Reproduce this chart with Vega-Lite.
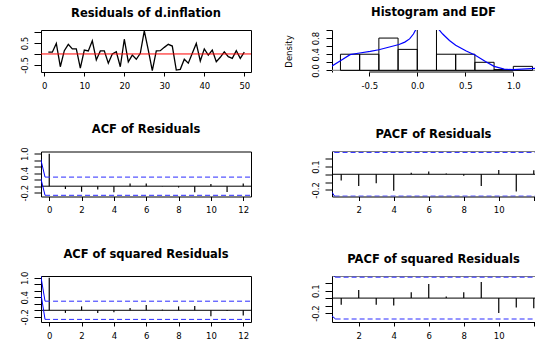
{
  "$schema": "https://vega.github.io/schema/vega-lite/v6.json",
  "padding": {"left": 19, "top": 7, "right": 0, "bottom": 0},
  "bounds": "flush",
  "columns": 2,
  "spacing": {"row": 79.5, "column": 81},
  "config": {
    "font": "DejaVu Sans",
    "view": {"stroke": "black", "strokeWidth": 1},
    "axis": {"labelFont": "DejaVu Sans", "labelFontSize": 8.5, "labelColor": "black", "tickColor": "black", "domainColor": "black", "grid": false, "titleFont": "DejaVu Sans", "titleFontWeight": "normal", "titleFontSize": 8.5, "titleColor": "black", "labelOverlap": false, "labelFlush": false},
    "axisX": {"tickSize": 4, "labelPadding": 5, "labelAngle": 0},
    "axisY": {"tickSize": 7, "labelPadding": 5, "labelAngle": 270, "labelAlign": "center", "labelBaseline": "bottom"},
    "title": {"font": "DejaVu Sans", "fontSize": 11.5, "fontWeight": "bold", "color": "black", "anchor": "middle", "frame": "group", "offset": 11}
  },
  "datasets": {
    "resid": [
      {"x": 1, "y": 0.08}, {"x": 2, "y": 0.08}, {"x": 3, "y": 0.48}, {"x": 4, "y": -0.58}, {"x": 5, "y": 0.15},
      {"x": 6, "y": 0.44}, {"x": 7, "y": 0.23}, {"x": 8, "y": 0.23}, {"x": 9, "y": -0.64}, {"x": 10, "y": 0.18},
      {"x": 11, "y": 0.14}, {"x": 12, "y": 0.6}, {"x": 13, "y": -0.27}, {"x": 14, "y": 0.14}, {"x": 15, "y": 0.14},
      {"x": 16, "y": -0.42}, {"x": 17, "y": 0.0}, {"x": 18, "y": 0.1}, {"x": 19, "y": -0.58}, {"x": 20, "y": 0.67},
      {"x": 21, "y": -0.36}, {"x": 22, "y": -0.05}, {"x": 23, "y": -0.24}, {"x": 24, "y": 0.03}, {"x": 25, "y": 1.05},
      {"x": 26, "y": 0.18}, {"x": 27, "y": -0.76}, {"x": 28, "y": 0.14}, {"x": 29, "y": 0.15}, {"x": 30, "y": 0.3},
      {"x": 31, "y": 0.44}, {"x": 32, "y": 0.36}, {"x": 33, "y": -0.73}, {"x": 34, "y": -0.7}, {"x": 35, "y": -0.24},
      {"x": 36, "y": -0.42}, {"x": 37, "y": 0.03}, {"x": 38, "y": 0.48}, {"x": 39, "y": -0.32}, {"x": 40, "y": 0.23},
      {"x": 41, "y": -0.05}, {"x": 42, "y": 0.18}, {"x": 43, "y": -0.35}, {"x": 44, "y": -0.15}, {"x": 45, "y": 0.1},
      {"x": 46, "y": -0.12}, {"x": 47, "y": -0.2}, {"x": 48, "y": 0.15}, {"x": 49, "y": -0.2}, {"x": 50, "y": 0.08}
    ],
    "hist": [
      {"x": -0.8, "x2": -0.6, "y": 0.4}, {"x": -0.6, "x2": -0.4, "y": 0.4}, {"x": -0.4, "x2": -0.2, "y": 0.8},
      {"x": -0.2, "x2": 0.0, "y": 0.52}, {"x": 0.0, "x2": 0.2, "y": 1.8}, {"x": 0.2, "x2": 0.4, "y": 0.4},
      {"x": 0.4, "x2": 0.6, "y": 0.4}, {"x": 0.6, "x2": 0.8, "y": 0.2}, {"x": 0.8, "x2": 1.0, "y": 0.02},
      {"x": 1.0, "x2": 1.2, "y": 0.1}
    ],
    "dens": [
      {"x": -0.9, "y": 0.09}, {"x": -0.8, "y": 0.24}, {"x": -0.7, "y": 0.39}, {"x": -0.6, "y": 0.43},
      {"x": -0.49, "y": 0.47}, {"x": -0.4, "y": 0.51}, {"x": -0.29, "y": 0.58}, {"x": -0.19, "y": 0.64},
      {"x": -0.13, "y": 0.7}, {"x": -0.08, "y": 0.78}, {"x": -0.04, "y": 0.9}, {"x": 0.0, "y": 1.08},
      {"x": 0.04, "y": 1.35}, {"x": 0.1, "y": 1.6}, {"x": 0.16, "y": 1.35}, {"x": 0.2, "y": 1.08},
      {"x": 0.265, "y": 0.9}, {"x": 0.335, "y": 0.74}, {"x": 0.4, "y": 0.62}, {"x": 0.51, "y": 0.48},
      {"x": 0.6, "y": 0.38}, {"x": 0.71, "y": 0.22}, {"x": 0.8, "y": 0.1}, {"x": 0.905, "y": 0.03},
      {"x": 1.0, "y": 0.017}, {"x": 1.09, "y": 0.03}, {"x": 1.23, "y": 0.05}
    ],
    "acf1": [
      {"x": 0, "y": 1.0}, {"x": 1, "y": -0.09}, {"x": 2, "y": -0.17}, {"x": 3, "y": -0.1}, {"x": 4, "y": -0.185},
      {"x": 5, "y": 0.08}, {"x": 6, "y": 0.08}, {"x": 7, "y": -0.01}, {"x": 8, "y": -0.04}, {"x": 9, "y": -0.19},
      {"x": 10, "y": 0.07}, {"x": 11, "y": -0.18}, {"x": 12, "y": 0.08}
    ],
    "acf2": [
      {"x": 0, "y": 1.0}, {"x": 1, "y": -0.08}, {"x": 2, "y": 0.12}, {"x": 3, "y": -0.08}, {"x": 4, "y": -0.06},
      {"x": 5, "y": 0.07}, {"x": 6, "y": 0.16}, {"x": 7, "y": 0.02}, {"x": 8, "y": 0.12}, {"x": 9, "y": 0.13},
      {"x": 10, "y": -0.18}, {"x": 11, "y": -0.02}, {"x": 12, "y": -0.16}
    ],
    "pacf1": [
      {"x": 1, "y": -0.08}, {"x": 2, "y": -0.15}, {"x": 3, "y": -0.115}, {"x": 4, "y": -0.21}, {"x": 5, "y": 0.02},
      {"x": 6, "y": 0.035}, {"x": 7, "y": 0.01}, {"x": 8, "y": -0.02}, {"x": 9, "y": -0.15}, {"x": 10, "y": 0.055},
      {"x": 11, "y": -0.22}, {"x": 12, "y": 0.05}
    ],
    "pacf2": [
      {"x": 1, "y": -0.09}, {"x": 2, "y": 0.11}, {"x": 3, "y": -0.09}, {"x": 4, "y": -0.1}, {"x": 5, "y": 0.08},
      {"x": 6, "y": 0.19}, {"x": 7, "y": 0.02}, {"x": 8, "y": 0.077}, {"x": 9, "y": 0.215}, {"x": 10, "y": -0.2},
      {"x": 11, "y": -0.126}, {"x": 12, "y": -0.135}
    ]
  },
  "concat": [
    {
      "title": "Residuals of d.inflation",
      "width": 210, "height": 42,
      "encoding": {
        "x": {"field": "x", "type": "quantitative", "title": null, "scale": {"domain": [-0.83, 51.68], "nice": false, "zero": false}, "axis": {"values": [0, 10, 20, 30, 40, 50], "domain": false}},
        "y": {"field": "y", "type": "quantitative", "title": null, "scale": {"domain": [-0.82, 1.09], "nice": false, "zero": false}, "axis": {"values": [-0.5, 0, 0.5, 1], "domain": false, "labelExpr": "datum.value == 0.5 ? '0.5' : datum.value == -0.5 ? '-0.5' : ''"}}
      },
      "layer": [
        {"data": {"name": "resid"}, "mark": {"type": "line", "color": "black", "strokeWidth": 1.3, "clip": true}},
        {"data": {"values": [{"x": -0.83, "x2": 51.68, "y": 0}]}, "mark": {"type": "rule", "color": "red", "strokeWidth": 1, "clip": true}, "encoding": {"x2": {"field": "x2"}}}
      ]
    },
    {
      "title": "Histogram and EDF",
      "width": 203, "height": 42,
      "view": {"stroke": null},
      "encoding": {
        "x": {"field": "x", "type": "quantitative", "title": null, "scale": {"domain": [-0.888, 1.226], "nice": false, "zero": false}, "axis": {"values": [-0.5, 0, 0.5, 1], "domain": false, "labelExpr": "datum.value == -0.5 ? '-0.5' : datum.value == 0 ? '0.0' : datum.value == 0.5 ? '0.5' : '1.0'"}},
        "y": {"field": "y", "type": "quantitative", "title": "Density", "scale": {"domain": [-0.04, 1.0], "nice": false, "zero": false}, "axis": {"values": [0, 0.2, 0.4, 0.6, 0.8, 1.0], "domain": true, "tickSize": 6, "labelPadding": 6, "titlePadding": 18, "labelExpr": "datum.value == 0 ? '0.0' : datum.value == 0.4 ? '0.4' : datum.value == 0.8 ? '0.8' : ''"}}
      },
      "layer": [
        {"data": {"values": [{"x": -0.888, "x2": 1.226, "y": 0}]}, "mark": {"type": "rule", "color": "#8c8c8c", "strokeWidth": 1.2, "clip": true}, "encoding": {"x2": {"field": "x2"}}},
        {"data": {"name": "hist"}, "mark": {"type": "rect", "fill": "transparent", "stroke": "black", "strokeWidth": 1, "clip": true}, "encoding": {"x2": {"field": "x2"}, "y2": {"datum": 0}}},
        {"data": {"name": "dens"}, "mark": {"type": "line", "color": "blue", "strokeWidth": 1.2, "clip": true}},
        {"data": {"values": [{"x": -0.5, "x2": 1.0, "y": -0.04}]}, "mark": {"type": "rule", "color": "black", "strokeWidth": 1}, "encoding": {"x2": {"field": "x2"}}}
      ]
    },
    {
      "title": "ACF of Residuals",
      "width": 210, "height": 45,
      "encoding": {
        "x": {"field": "x", "type": "quantitative", "title": null, "scale": {"domain": [-0.51, 12.48], "nice": false, "zero": false}, "axis": {"values": [0, 2, 4, 6, 8, 10, 12], "domain": false}},
        "y": {"field": "y", "type": "quantitative", "title": null, "scale": {"domain": [-0.317, 1.068], "nice": false, "zero": false}, "axis": {"values": [-0.2, 0, 0.2, 0.4, 0.6, 0.8, 1.0], "domain": false, "labelExpr": "datum.value == 1 ? '1.0' : datum.value == 0.4 ? '0.4' : datum.value == -0.2 ? '-0.2' : ''"}}
      },
      "layer": [
        {"data": {"values": [{"x": -0.51, "x2": 12.48, "y": 0}]}, "mark": {"type": "rule", "color": "black", "strokeWidth": 1, "clip": true}, "encoding": {"x2": {"field": "x2"}}},
        {"data": {"name": "acf1"}, "mark": {"type": "rule", "color": "black", "strokeWidth": 1.2, "clip": true}, "encoding": {"y2": {"datum": 0}}},
        {"data": {"values": [{"x": -0.26, "x2": 12.48, "y": 0.28}, {"x": -0.26, "x2": 12.48, "y": -0.28}]}, "mark": {"type": "rule", "color": "#2a2aff", "strokeWidth": 1, "strokeDash": [5, 3], "clip": true}, "encoding": {"x2": {"field": "x2"}}},
        {"data": {"values": [{"x": -0.53, "x2": -0.26, "y": 0.84, "y2": 0.28}, {"x": -0.53, "x2": -0.26, "y": 0.26, "y2": -0.28}]}, "mark": {"type": "rule", "color": "blue", "strokeWidth": 1, "clip": true}, "encoding": {"x2": {"field": "x2"}, "y2": {"field": "y2"}}}
      ]
    },
    {
      "title": "PACF of Residuals",
      "width": 203, "height": 45,
      "view": {"stroke": null},
      "encoding": {
        "x": {"field": "x", "type": "quantitative", "title": null, "scale": {"domain": [0.474, 12.07], "nice": false, "zero": false}, "axis": {"values": [2, 4, 6, 8, 10, 12], "domain": true, "labelExpr": "datum.value == 12 ? '' : datum.label"}},
        "y": {"field": "y", "type": "quantitative", "title": null, "scale": {"domain": [-0.285, 0.292], "nice": false, "zero": false}, "axis": {"values": [-0.2, -0.1, 0, 0.1, 0.2], "domain": true, "labelExpr": "datum.value == 0.1 ? '0.1' : datum.value == -0.2 ? '-0.2' : ''"}}
      },
      "layer": [
        {"data": {"values": [{"x": 0.474, "x2": 12.07, "y": 0.292}]}, "mark": {"type": "rule", "color": "black", "strokeWidth": 1, "clip": true}, "encoding": {"x2": {"field": "x2"}}},
        {"data": {"values": [{"x": 0.474, "x2": 12.07, "y": 0}]}, "mark": {"type": "rule", "color": "black", "strokeWidth": 1, "clip": true}, "encoding": {"x2": {"field": "x2"}}},
        {"data": {"name": "pacf1"}, "mark": {"type": "rule", "color": "black", "strokeWidth": 1.2, "clip": true}, "encoding": {"y2": {"datum": 0}}},
        {"data": {"values": [{"x": 0.62, "x2": 12.07, "y": 0.28}, {"x": 0.62, "x2": 12.07, "y": -0.28}]}, "mark": {"type": "rule", "color": "#2a2aff", "strokeWidth": 1, "strokeDash": [5, 3], "clip": true}, "encoding": {"x2": {"field": "x2"}}},
        {"data": {"values": [{"x": 0.474, "x2": 0.62, "y": 0.33, "y2": 0.28}, {"x": 0.474, "x2": 0.62, "y": -0.23, "y2": -0.28}]}, "mark": {"type": "rule", "color": "blue", "strokeWidth": 1, "clip": true}, "encoding": {"x2": {"field": "x2"}, "y2": {"field": "y2"}}}
      ]
    },
    {
      "title": "ACF of squared Residuals",
      "width": 210, "height": 46,
      "encoding": {
        "x": {"field": "x", "type": "quantitative", "title": null, "scale": {"domain": [-0.51, 12.48], "nice": false, "zero": false}, "axis": {"values": [0, 2, 4, 6, 8, 10, 12], "domain": false}},
        "y": {"field": "y", "type": "quantitative", "title": null, "scale": {"domain": [-0.36, 1.055], "nice": false, "zero": false}, "axis": {"values": [-0.2, 0, 0.2, 0.4, 0.6, 0.8, 1.0], "domain": false, "labelExpr": "datum.value == 1 ? '1.0' : datum.value == 0.4 ? '0.4' : datum.value == -0.2 ? '-0.2' : ''"}}
      },
      "layer": [
        {"data": {"values": [{"x": -0.51, "x2": 12.48, "y": 0}]}, "mark": {"type": "rule", "color": "black", "strokeWidth": 1, "clip": true}, "encoding": {"x2": {"field": "x2"}}},
        {"data": {"name": "acf2"}, "mark": {"type": "rule", "color": "black", "strokeWidth": 1.2, "clip": true}, "encoding": {"y2": {"datum": 0}}},
        {"data": {"values": [{"x": -0.26, "x2": 12.48, "y": 0.28}, {"x": -0.26, "x2": 12.48, "y": -0.28}]}, "mark": {"type": "rule", "color": "#2a2aff", "strokeWidth": 1, "strokeDash": [5, 3], "clip": true}, "encoding": {"x2": {"field": "x2"}}},
        {"data": {"values": [{"x": -0.53, "x2": -0.26, "y": 1.08, "y2": 0.28}, {"x": -0.53, "x2": -0.26, "y": 0.56, "y2": -0.28}]}, "mark": {"type": "rule", "color": "blue", "strokeWidth": 1, "clip": true}, "encoding": {"x2": {"field": "x2"}, "y2": {"field": "y2"}}}
      ]
    },
    {
      "title": "PACF of squared Residuals",
      "width": 203, "height": 46,
      "view": {"stroke": null},
      "encoding": {
        "x": {"field": "x", "type": "quantitative", "title": null, "scale": {"domain": [0.474, 12.07], "nice": false, "zero": false}, "axis": {"values": [2, 4, 6, 8, 10, 12], "domain": true, "labelExpr": "datum.value == 12 ? '' : datum.label"}},
        "y": {"field": "y", "type": "quantitative", "title": null, "scale": {"domain": [-0.32, 0.296], "nice": false, "zero": false}, "axis": {"values": [-0.2, -0.1, 0, 0.1, 0.2], "domain": true, "labelExpr": "datum.value == 0.1 ? '0.1' : datum.value == -0.2 ? '-0.2' : ''"}}
      },
      "layer": [
        {"data": {"values": [{"x": 0.474, "x2": 12.07, "y": 0.296}]}, "mark": {"type": "rule", "color": "black", "strokeWidth": 1, "clip": true}, "encoding": {"x2": {"field": "x2"}}},
        {"data": {"values": [{"x": 0.474, "x2": 12.07, "y": 0}]}, "mark": {"type": "rule", "color": "black", "strokeWidth": 1, "clip": true}, "encoding": {"x2": {"field": "x2"}}},
        {"data": {"name": "pacf2"}, "mark": {"type": "rule", "color": "black", "strokeWidth": 1.2, "clip": true}, "encoding": {"y2": {"datum": 0}}},
        {"data": {"values": [{"x": 0.68, "x2": 12.07, "y": 0.28}, {"x": 0.68, "x2": 12.07, "y": -0.28}]}, "mark": {"type": "rule", "color": "#2a2aff", "strokeWidth": 1, "strokeDash": [5, 3], "clip": true}, "encoding": {"x2": {"field": "x2"}}},
        {"data": {"values": [{"x": 0.474, "x2": 0.68, "y": 0.32, "y2": 0.28}, {"x": 0.474, "x2": 0.68, "y": -0.24, "y2": -0.28}]}, "mark": {"type": "rule", "color": "blue", "strokeWidth": 1, "clip": true}, "encoding": {"x2": {"field": "x2"}, "y2": {"field": "y2"}}}
      ]
    }
  ]
}
